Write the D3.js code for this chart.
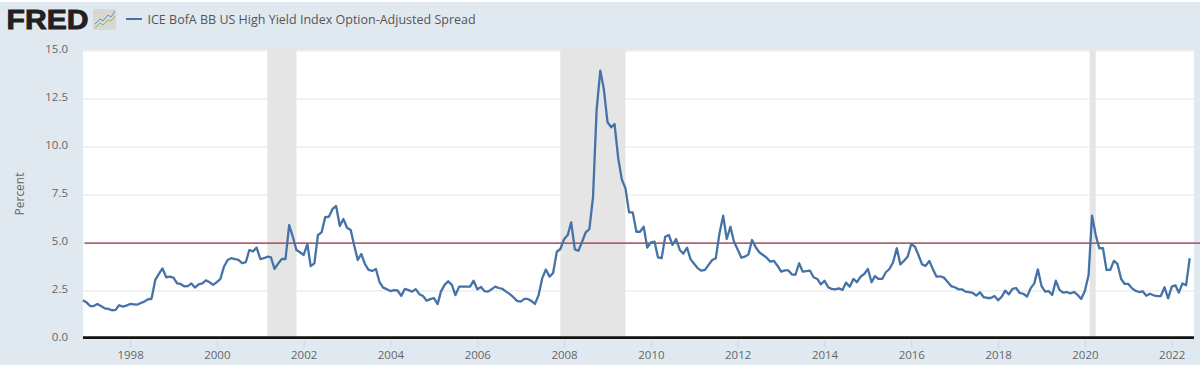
<!DOCTYPE html>
<html>
<head>
<meta charset="utf-8">
<script src="https://cdn.jsdelivr.net/npm/d3@7"></script>
<style>
  html, body { margin: 0; padding: 0; background: #fff; overflow: hidden; }
  text { font-family: "Open Sans", sans-serif; }
</style>
</head>
<body>
<div id="chart"></div>
<script>
// monthly values, first point is Dec 1996
const firstMonth = new Date(1996, 11, 1);
const spreadValues = [
    1.98,
    1.86, 1.68, 1.68, 1.79, 1.68, 1.56, 1.53, 1.46, 1.48, 1.72, 1.65, 1.70, // 1997
    1.79, 1.77, 1.75, 1.84, 1.91, 2.03, 2.06, 3.04, 3.35, 3.64, 3.18, 3.21, // 1998
    3.16, 2.86, 2.83, 2.71, 2.72, 2.86, 2.64, 2.81, 2.86, 3.02, 2.92, 2.78, // 1999
    2.93, 3.10, 3.73, 4.08, 4.17, 4.13, 4.08, 3.91, 3.97, 4.60, 4.53, 4.72, // 2000
    4.13, 4.17, 4.25, 4.21, 3.61, 3.90, 4.13, 4.13, 5.90, 5.30, 4.60, 4.48, // 2001
    4.34, 4.91, 3.76, 3.90, 5.38, 5.52, 6.31, 6.33, 6.74, 6.89, 5.85, 6.21, // 2002
    5.76, 5.64, 4.86, 4.08, 4.39, 3.86, 3.56, 3.51, 3.61, 2.93, 2.64, 2.56, // 2003
    2.46, 2.51, 2.49, 2.21, 2.57, 2.51, 2.43, 2.56, 2.30, 2.20, 1.96, 2.04, // 2004
    2.10, 1.78, 2.43, 2.78, 2.97, 2.78, 2.25, 2.69, 2.69, 2.69, 2.69, 3.00, // 2005
    2.55, 2.67, 2.46, 2.43, 2.55, 2.69, 2.62, 2.57, 2.43, 2.30, 2.14, 1.95, // 2006
    1.91, 2.05, 2.05, 1.95, 1.79, 2.25, 3.12, 3.58, 3.21, 3.40, 4.51, 4.65, // 2007
    5.16, 5.38, 6.04, 4.63, 4.56, 5.03, 5.52, 5.69, 7.37, 11.89, 13.94, 12.97, // 2008
    11.25, 10.99, 11.16, 9.37, 8.28, 7.81, 6.56, 6.56, 5.55, 5.55, 5.81, 4.72, // 2009
    5.00, 5.03, 4.22, 4.17, 5.29, 5.38, 4.86, 5.17, 4.60, 4.41, 4.72, 4.11, // 2010
    3.87, 3.64, 3.52, 3.56, 3.82, 4.08, 4.17, 5.47, 6.39, 5.17, 5.81, 5.03, // 2011
    4.63, 4.20, 4.25, 4.37, 5.12, 4.74, 4.48, 4.34, 4.20, 3.99, 4.03, 3.78, // 2012
    3.47, 3.54, 3.54, 3.33, 3.31, 3.91, 3.47, 3.50, 3.52, 3.18, 3.09, 2.81, // 2013
    3.00, 2.66, 2.57, 2.55, 2.60, 2.52, 2.90, 2.69, 3.09, 2.92, 3.21, 3.35, // 2014
    3.61, 2.92, 3.24, 3.09, 3.09, 3.44, 3.61, 3.96, 4.69, 3.85, 4.04, 4.25, // 2015
    4.91, 4.77, 4.34, 3.85, 3.77, 4.03, 3.59, 3.21, 3.23, 3.16, 2.95, 2.72, // 2016
    2.66, 2.55, 2.55, 2.43, 2.40, 2.36, 2.22, 2.40, 2.14, 2.10, 2.10, 2.20, // 2017
    1.98, 2.17, 2.48, 2.29, 2.57, 2.62, 2.36, 2.32, 2.17, 2.60, 2.86, 3.59, // 2018
    2.72, 2.43, 2.46, 2.26, 3.00, 2.52, 2.38, 2.41, 2.34, 2.41, 2.26, 2.05, // 2019
    2.48, 3.30, 6.39, 5.38, 4.69, 4.69, 3.56, 3.56, 4.03, 3.87, 3.09, 2.83, // 2020
    2.83, 2.60, 2.48, 2.41, 2.45, 2.22, 2.32, 2.24, 2.20, 2.20, 2.66, 2.08, // 2021
    2.69, 2.76, 2.38, 2.86, 2.76, 4.17                                      // 2022
];

const yearTicks = [1998, 2000, 2002, 2004, 2006, 2008, 2010, 2012, 2014, 2016, 2018, 2020, 2022];
const percentTicks = [0, 2.5, 5, 7.5, 10, 12.5, 15];
const recessionStarts = [new Date(2001, 2, 1), new Date(2007, 11, 1), new Date(2020, 1, 10)];
const recessionEnds = [new Date(2001, 10, 1), new Date(2009, 5, 1), new Date(2020, 3, 1)];
const thresholdValue = 4.96;
const seriesName = "ICE BofA BB US High Yield Index Option-Adjusted Spread";

const width = 1200, height = 365;
const plot = { left: 83, right: 1194, top: 50, bottom: 338.3 };
const background = "#e1e9f0", lineColor = "#4572a7";

const svg = d3.select("#chart")
    .append("svg")
    .attr("width", width)
    .attr("height", height)
    .style("display", "block");

svg.append("rect")
    .attr("y", 2)
    .attr("width", width)
    .attr("height", height - 2)
    .attr("fill", background);

svg.append("rect")
    .attr("x", plot.left)
    .attr("y", plot.top)
    .attr("width", plot.right - plot.left)
    .attr("height", plot.bottom - plot.top)
    .attr("fill", "#fff");

const x = d3.scaleTime()
    .domain([firstMonth, new Date(2022, 6, 7)])
    .range([plot.left, plot.right]);

const y = d3.scaleLinear()
    .domain([0, 15])
    .range([plot.bottom, 50.3]);

// grid and y labels
const yAxis = svg.append("g")
    .attr("transform", `translate(${plot.left},0)`)
    .call(d3.axisLeft(y)
        .tickValues(percentTicks)
        .tickSize(-(plot.right - plot.left))
        .tickPadding(15)
        .tickFormat(d3.format(".1f")));
yAxis.select(".domain").remove();
yAxis.selectAll("line").attr("stroke", "#e9e9e9").attr("stroke-width", 1.3);
yAxis.selectAll("text").attr("fill", "#666").attr("y", -1).style("font-size", "11.5px");

// recession bands
svg.append("g")
    .selectAll("rect")
    .data(recessionStarts)
    .join("rect")
    .attr("x", d => x(d))
    .attr("y", plot.top)
    .attr("width", (d, i) => x(recessionEnds[i]) - x(d))
    .attr("height", plot.bottom - plot.top)
    .attr("fill", "#e5e5e5");

// x axis
const xAxis = svg.append("g")
    .attr("transform", `translate(0,${plot.bottom + 1.5})`)
    .call(d3.axisBottom(x)
        .tickValues(yearTicks.map(d => new Date(d, 0, 1)))
        .tickSize(8)
        .tickPadding(3)
        .tickFormat(d3.timeFormat("%Y")));
xAxis.select(".domain").remove();
xAxis.selectAll("line").attr("stroke", "#ccd6eb");
xAxis.selectAll("text").attr("fill", "#666").style("font-size", "11.5px");

// threshold line
svg.append("line")
    .attr("x1", x(new Date(1996, 11, 15)))
    .attr("x2", width)
    .attr("y1", y(thresholdValue))
    .attr("y2", y(thresholdValue))
    .attr("stroke", "#9a2f3c")
    .attr("stroke-width", 1.2);

// zero line
svg.append("line")
    .attr("x1", plot.left)
    .attr("x2", plot.right)
    .attr("y1", y(0) - 0.6)
    .attr("y2", y(0) - 0.6)
    .attr("stroke", "#111")
    .attr("stroke-width", 2.8);

// series
const line = d3.line()
    .x((d, i) => x(d3.timeMonth.offset(firstMonth, i)))
    .y(d => y(d));

svg.append("path")
    .datum(spreadValues)
    .attr("d", line)
    .attr("fill", "none")
    .attr("stroke", lineColor)
    .attr("stroke-width", 2.3)
    .attr("stroke-linejoin", "round");

// y title
svg.append("text")
    .attr("transform", "translate(24,194) rotate(-90)")
    .attr("text-anchor", "middle")
    .attr("fill", "#666")
    .style("font-size", "12px")
    .text("Percent");

// legend
svg.append("line")
    .attr("x1", 126).attr("x2", 142)
    .attr("y1", 19).attr("y2", 19)
    .attr("stroke", lineColor)
    .attr("stroke-width", 2);

svg.append("text")
    .attr("x", 147.5)
    .attr("y", 23.5)
    .attr("fill", "#555")
    .style("font-size", "12.5px")
    .style("font-weight", 400)
    .text(seriesName);

// logo
svg.append("text")
    .attr("x", 6.5)
    .attr("y", 29)
    .attr("fill", "#231f20")
    .attr("textLength", 82)
    .attr("lengthAdjust", "spacingAndGlyphs")
    .attr("stroke", "#231f20")
    .attr("stroke-width", 0.9)
    .style("font-family", "'Liberation Sans', sans-serif")
    .style("font-size", "27px")
    .style("font-weight", 700)
    .text("FRED");

const logo = svg.append("g").attr("transform", "translate(93,9)");
logo.append("rect")
    .attr("width", 23).attr("height", 21).attr("rx", 2)
    .attr("fill", "#d8d8d2");
logo.append("path")
    .attr("d", "M2,15 L7,10 L10,12 L15,6 L18,8 L22,2")
    .attr("fill", "none").attr("stroke", "#6a8fb8").attr("stroke-width", 1);
logo.append("path")
    .attr("d", "M2,19 L7,14 L10,16 L15,11 L18,12 L22,7")
    .attr("fill", "none").attr("stroke", "#8fb56a").attr("stroke-width", 1);
</script>
</body>
</html>
